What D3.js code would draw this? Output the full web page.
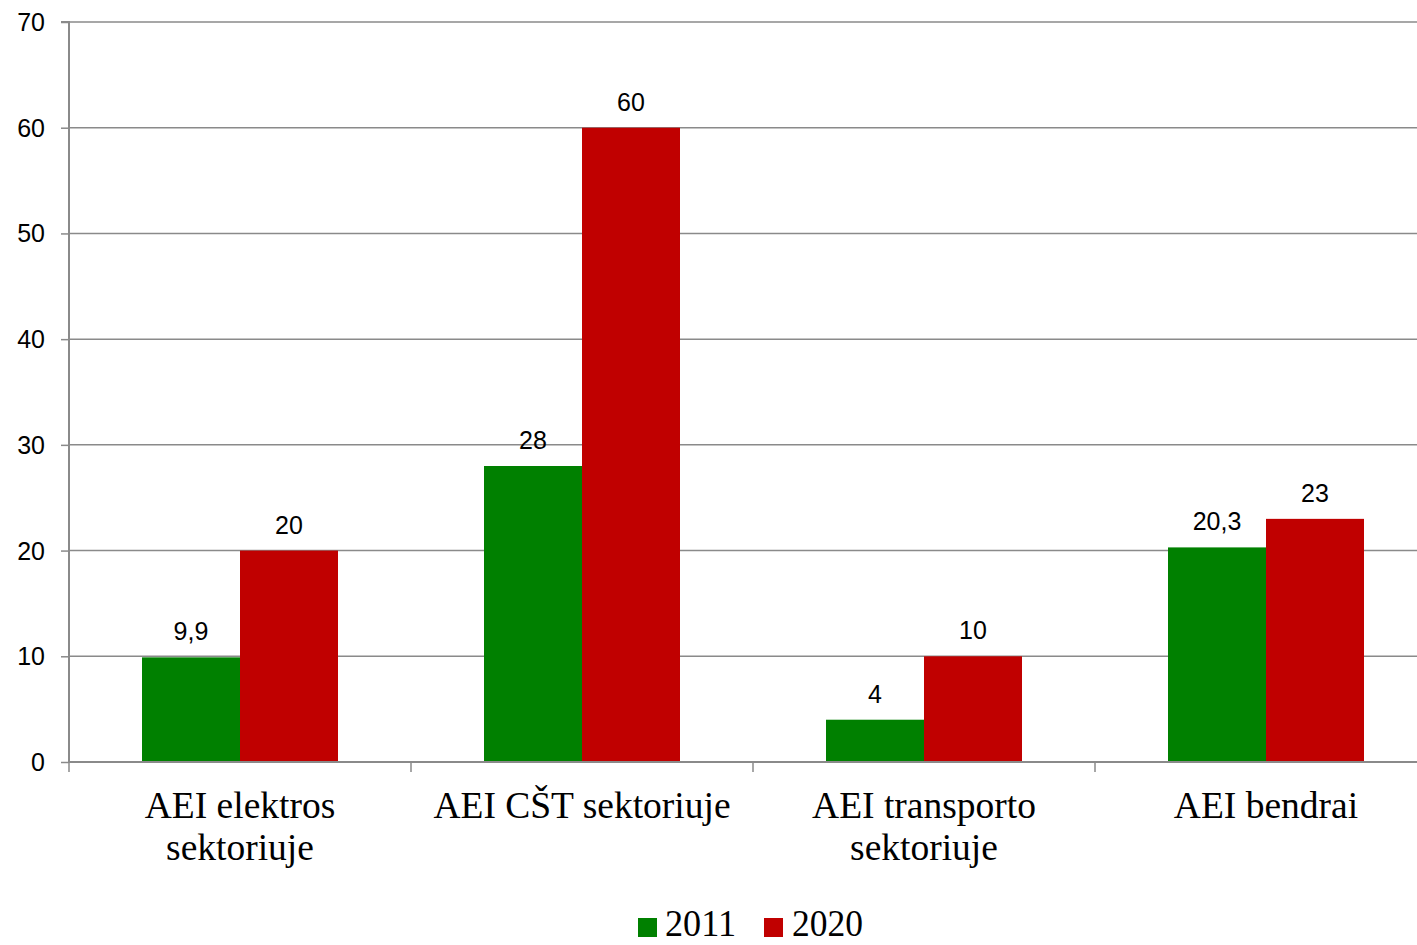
<!DOCTYPE html>
<html><head><meta charset="utf-8">
<script src="https://cdn.jsdelivr.net/npm/d3@7"></script>
<style>body{margin:0;background:#fff;overflow:hidden}</style>
</head><body>
<svg id="c" width="1417" height="945"></svg>
<script>
const categories = [["AEI elektros","sektoriuje"],["AEI CŠT sektoriuje"],["AEI transporto","sektoriuje"],["AEI bendrai"]];
const seriesNames = ["2011","2020"];
const values2011 = [9.9, 28, 4, 20.3];
const values2020 = [20, 60, 10, 23];
const labels2011 = ["9,9","28","4","20,3"];
const labels2020 = ["20","60","10","23"];
const yTicks = [0,10,20,30,40,50,60,70];
const colors = ["#008000","#C00000"];

(function(){
const svg = d3.select("#c");
const mLeft = 69, mRight = 1437, mTop = 22, mBottom = 762;
const x = d3.scaleBand().domain(d3.range(categories.length)).range([mLeft, mRight]).paddingInner(0).paddingOuter(0);
const inner = d3.scaleBand().domain([0,1]).range([0, x.bandwidth()]).paddingOuter(0.745).paddingInner(0);
const y = d3.scaleLinear().domain([0,70]).range([mBottom, mTop]);

// gridlines
svg.append("g").selectAll("line").data(yTicks.filter(d=>d>0)).join("line")
  .attr("x1", mLeft).attr("x2", mRight).attr("y1", d=>y(d)).attr("y2", d=>y(d))
  .attr("stroke", "#8a8a8a").attr("stroke-width", 1.5);

const series = [values2011, values2020];
const labs = [labels2011, labels2020];
series.forEach((vals, s) => {
  svg.append("g").selectAll("rect").data(vals).join("rect")
    .attr("x", (d,i)=>x(i)+inner(s)).attr("width", inner.bandwidth())
    .attr("y", d=>y(d)).attr("height", d=>mBottom - y(d))
    .attr("fill", colors[s]);
  svg.append("g").selectAll("text").data(vals).join("text")
    .attr("x", (d,i)=>x(i)+inner(s)+inner.bandwidth()/2)
    .attr("y", d=>y(d)-17)
    .attr("text-anchor","middle")
    .attr("font-family","Liberation Sans, Arial, sans-serif")
    .attr("font-size", 25).attr("fill","#000")
    .text((d,i)=>labs[s][i]);
});

// y axis
const yAxis = d3.axisLeft(y).tickValues(yTicks).tickSize(8).tickPadding(16).tickFormat(d3.format("d"));
const ga = svg.append("g").attr("transform", `translate(${mLeft},0)`).call(yAxis);
ga.select(".domain").attr("stroke","#8a8a8a").attr("stroke-width",2).attr("d", `M-8,${mTop}H0V${mBottom}`);
ga.selectAll(".tick line").attr("stroke","#8a8a8a").attr("stroke-width",1.5);
ga.selectAll(".tick text").attr("font-family","Liberation Sans, Arial, sans-serif").attr("font-size",25).attr("fill","#000").attr("dy","0.34em");

// x axis
svg.append("line").attr("x1", mLeft).attr("x2", mRight).attr("y1", mBottom).attr("y2", mBottom)
  .attr("stroke","#8a8a8a").attr("stroke-width",2);
svg.append("g").selectAll("line").data(d3.range(categories.length+1)).join("line")
  .attr("x1", d=> d<categories.length ? x(d) : mRight).attr("x2", d=> d<categories.length ? x(d) : mRight)
  .attr("y1", mBottom).attr("y2", mBottom+10).attr("stroke","#8a8a8a").attr("stroke-width",1.5);

const cl = svg.append("g").selectAll("text").data(categories).join("text")
  .attr("x", (d,i)=>x(i)+x.bandwidth()/2).attr("y", 818)
  .attr("text-anchor","middle")
  .attr("font-family","Liberation Serif, Times New Roman, serif")
  .attr("font-size", 37.5).attr("fill","#000");
cl.each(function(d){
  const t = d3.select(this);
  d.forEach((line, k) => {
    t.append("tspan").attr("x", t.attr("x")).attr("dy", k===0?0:42).text(line);
  });
});

// legend
const legendItems = [{n:seriesNames[0], c:colors[0], x:638, tx:665},{n:seriesNames[1], c:colors[1], x:764, tx:792}];
const lg = svg.append("g");
legendItems.forEach(it => {
  lg.append("rect").attr("x", it.x).attr("y", 918).attr("width", 19).attr("height", 19).attr("fill", it.c);
  lg.append("text").attr("x", it.tx).attr("y", 936)
    .attr("font-family","Liberation Serif, Times New Roman, serif")
    .attr("font-size", 38).attr("fill","#000")
    .attr("textLength", 71).attr("lengthAdjust","spacingAndGlyphs")
    .text(it.n);
});
})();
</script>
</body></html>
